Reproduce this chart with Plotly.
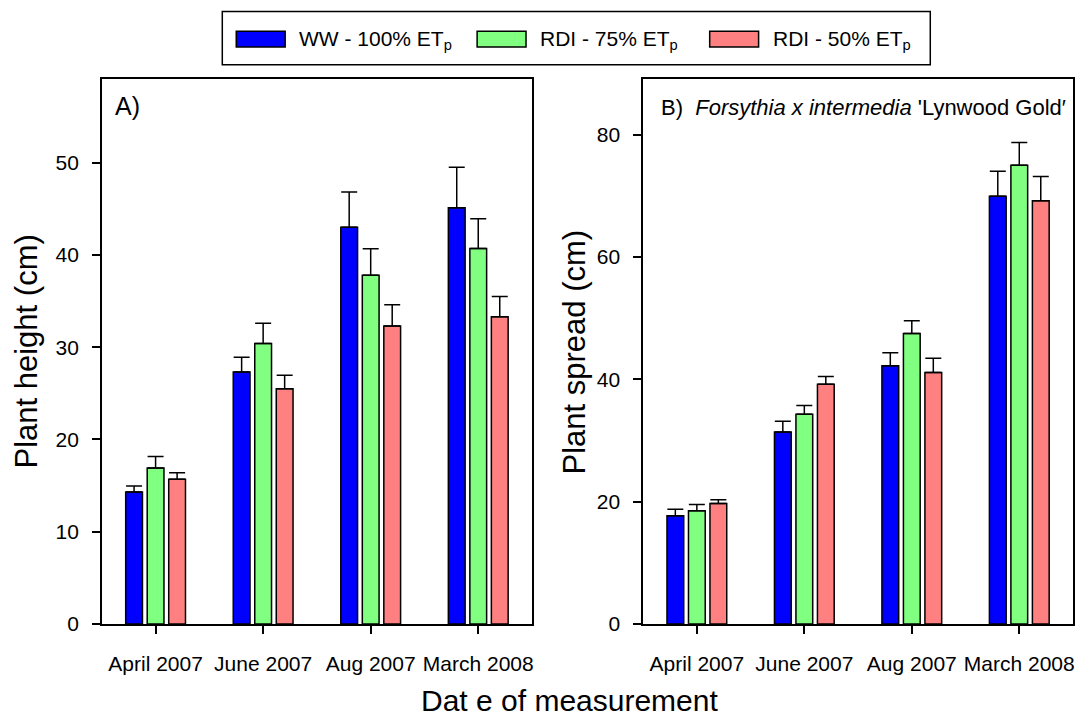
import plotly.graph_objects as go

# ---- data -------------------------------------------------------------
categories = ["April 2007", "June 2007", "Aug 2007", "March 2008"]
series_names = ["WW - 100% ET<sub>p</sub>", "RDI - 75% ET<sub>p</sub>", "RDI - 50% ET<sub>p</sub>"]
series_colors = ["#0000FF", "#80FF80", "#FF8080"]

# Plant height (cm), mean and standard error
height_ww = [14.3, 27.3, 43.0, 45.1]
height_ww_se = [0.65, 1.6, 3.8, 4.4]
height_rdi75 = [16.9, 30.4, 37.8, 40.7]
height_rdi75_se = [1.25, 2.2, 2.85, 3.2]
height_rdi50 = [15.7, 25.5, 32.3, 33.3]
height_rdi50_se = [0.7, 1.45, 2.3, 2.2]

# Plant spread (cm), mean and standard error
spread_ww = [17.7, 31.4, 42.2, 69.9]
spread_ww_se = [1.05, 1.75, 2.15, 4.1]
spread_rdi75 = [18.5, 34.3, 47.5, 75.0]
spread_rdi75_se = [1.05, 1.4, 2.05, 3.7]
spread_rdi50 = [19.7, 39.2, 41.1, 69.2]
spread_rdi50_se = [0.6, 1.25, 2.35, 3.95]

height_tick_vals = [0, 10, 20, 30, 40, 50]
spread_tick_vals = [0, 20, 40, 60, 80]

# ---- layout helpers (pixel -> paper) ---------------------------------
W, H = 1084, 724
FONT = "Liberation Sans, Arial, sans-serif"


def fx(p):
    return p / W


def fy(p):
    return 1 - p / H


fig = go.Figure()

panels = [
    ("x", "y", [height_ww, height_rdi75, height_rdi50],
     [height_ww_se, height_rdi75_se, height_rdi50_se]),
    ("x2", "y2", [spread_ww, spread_rdi75, spread_rdi50],
     [spread_ww_se, spread_rdi75_se, spread_rdi50_se]),
]

for xa, ya, means, errs in panels:
    for name, color, vals, se in zip(series_names, series_colors, means, errs):
        fig.add_trace(go.Bar(
            x=categories, y=vals, name=name, xaxis=xa, yaxis=ya,
            marker=dict(color=color, line=dict(color="black", width=1.5)),
            error_y=dict(type="data", array=se, arrayminus=[0] * len(se),
                         symmetric=False, color="black", thickness=1.5, width=8),
            showlegend=False,
        ))

axis_common = dict(
    showline=True, linecolor="black", linewidth=1.5, mirror=True,
    ticks="outside", ticklen=8, tickwidth=1.5, tickcolor="black",
    showgrid=False, zeroline=False,
    tickfont=dict(family=FONT, size=21, color="black"),
)

fig.update_layout(
    width=W, height=H,
    margin=dict(l=0, r=0, t=0, b=0),
    paper_bgcolor="white", plot_bgcolor="white",
    barmode="group", bargap=0.4, bargroupgap=0.22,
    font=dict(family=FONT, color="black"),
    xaxis=dict(domain=[fx(102), fx(533)], anchor="y", type="category",
               range=[-0.5, 3.5], ticklabelstandoff=12, **axis_common),
    yaxis=dict(domain=[fy(633.7), fy(80.7)], anchor="x", range=[0, 59],
               tickvals=height_tick_vals, ticklabelstandoff=9, **axis_common),
    xaxis2=dict(domain=[fx(644.3), fx(1075)], anchor="y2", type="category",
                range=[-0.5, 3.5], ticklabelstandoff=12, **axis_common),
    yaxis2=dict(domain=[fy(633.7), fy(80.7)], anchor="x2", range=[0, 89],
                tickvals=spread_tick_vals, ticklabelstandoff=9, **axis_common),
)

annotations = [
    dict(text="A)", x=fx(113), y=fy(108), xanchor="left", yanchor="middle",
         font=dict(size=25)),
    dict(text="B)  <i>Forsythia x intermedia</i> 'Lynwood Gold\u2032",
         x=fx(660), y=fy(109), xanchor="left", yanchor="middle",
         font=dict(size=22)),
    dict(text="Plant height (cm)", x=fx(27), y=fy(357), textangle=-90,
         xanchor="center", yanchor="middle", font=dict(size=31)),
    dict(text="Plant spread (cm)", x=fx(576), y=fy(357), textangle=-90,
         xanchor="center", yanchor="middle", font=dict(size=31)),
    dict(text="Dat e of measurement", x=fx(571), y=fy(711),
         xanchor="center", yanchor="middle", font=dict(size=30)),
]

# legend drawn as a framed row of swatches and labels
shapes = [dict(type="rect", xref="paper", yref="paper",
               x0=fx(222.7), x1=fx(932), y0=fy(65.7), y1=fy(11.7),
               line=dict(color="black", width=1.5), fillcolor="white")]
swatch_left = [236.7, 478, 711]
for left, name, color in zip(swatch_left, series_names, series_colors):
    shapes.append(dict(type="rect", xref="paper", yref="paper",
                       x0=fx(left), x1=fx(left + 49), y0=fy(47.7), y1=fy(31.7),
                       fillcolor=color, line=dict(color="black", width=1.5)))
    annotations.append(dict(text=name, x=fx(left + 61), y=fy(41),
                            xanchor="left", yanchor="middle",
                            font=dict(size=21)))

for a in annotations:
    a.update(xref="paper", yref="paper", showarrow=False)
    a.setdefault("font", {})
    a["font"].update(family=FONT, color="black")

fig.update_layout(annotations=annotations, shapes=shapes)

fig.write_html("out.html")
